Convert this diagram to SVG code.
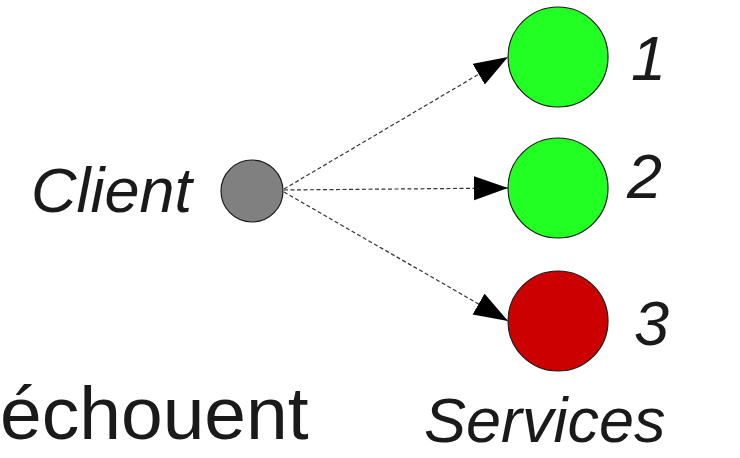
<svg xmlns="http://www.w3.org/2000/svg" width="740" height="458" viewBox="0 0 740 458">
<defs>
<marker id="arr" markerUnits="userSpaceOnUse" markerWidth="36" markerHeight="26" refX="34" refY="12" orient="auto">
<path d="M0,0 L34,12 L0,24 z" fill="#000"/>
</marker>
<style>
.lbl{font-family:"Liberation Sans",Arial,sans-serif;fill:#1a1a1a}
.it{font-style:italic}
.node{stroke:#1a1a1a;stroke-width:1.2}
.conn{stroke:#333;stroke-width:1.2;stroke-dasharray:4 2.5;fill:none}
</style>
</defs>
<rect width="740" height="458" fill="#fff"/>
<g id="connectors">
<line class="conn" x1="284" y1="189" x2="508" y2="57" marker-end="url(#arr)"/>
<line class="conn" x1="284" y1="190" x2="508" y2="188" marker-end="url(#arr)"/>
<line class="conn" x1="284" y1="192" x2="508" y2="321" marker-end="url(#arr)"/>
</g>
<g id="client">
<circle class="node" cx="252" cy="191" r="31" fill="#808080"/>
<text class="lbl it" x="31" y="212" font-size="63">Client</text>
</g>
<g id="service1">
<circle class="node" cx="558" cy="57" r="50" fill="#22ff22"/>
<text class="lbl it" x="631" y="80" font-size="63">1</text>
</g>
<g id="service2">
<circle class="node" cx="558" cy="188" r="50" fill="#22ff22"/>
<text class="lbl it" x="627" y="198" font-size="63">2</text>
</g>
<g id="service3">
<circle class="node" cx="558" cy="321" r="50" fill="#cc0000"/>
<text class="lbl it" x="634" y="345" font-size="63">3</text>
</g>
<text class="lbl" x="0" y="439" font-size="75">échouent</text>
<text class="lbl it" x="424" y="442" font-size="63">Services</text>
</svg>
